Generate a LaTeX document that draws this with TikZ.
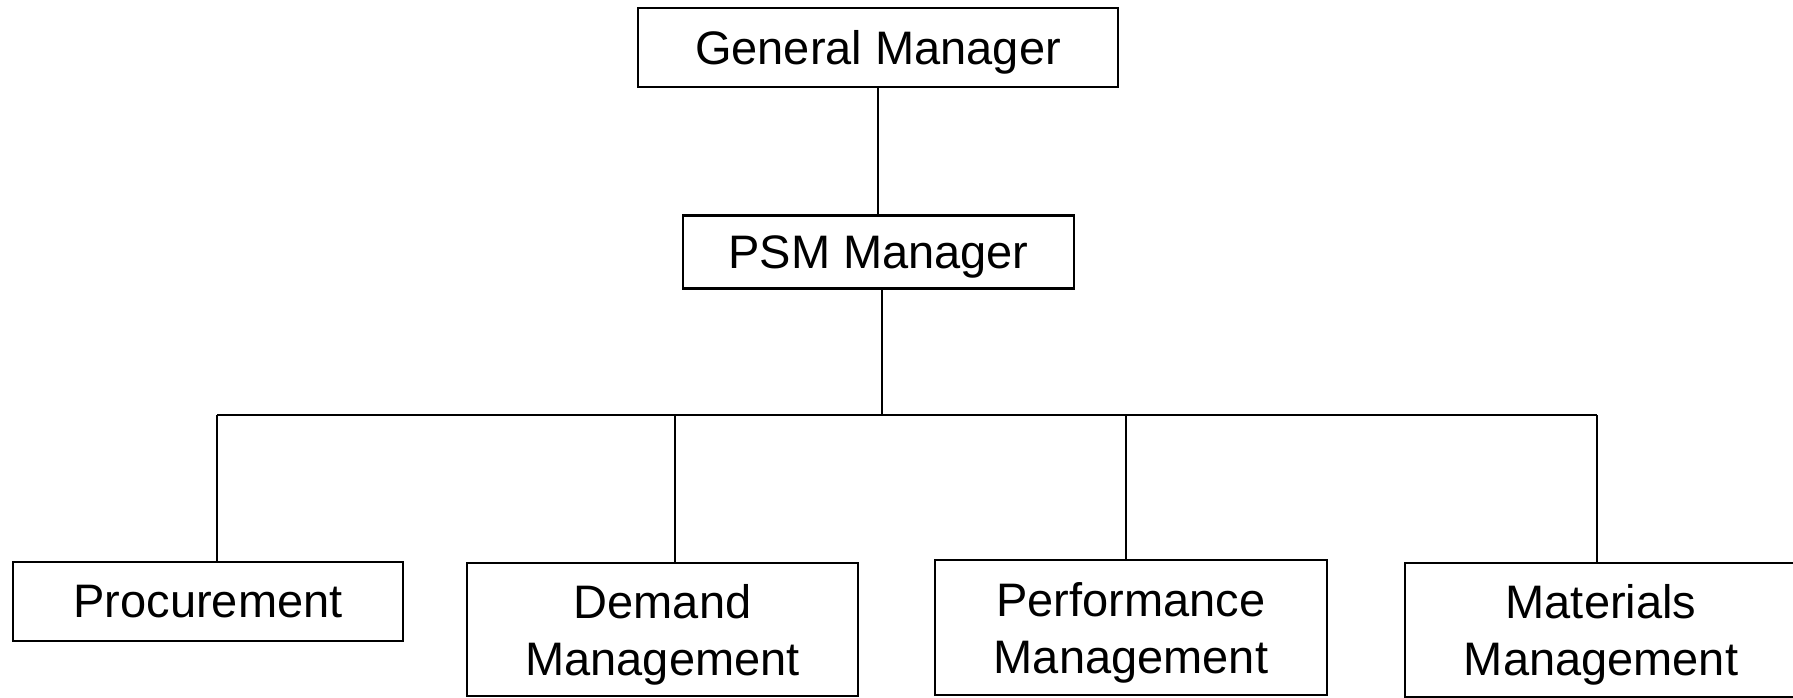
\documentclass[tikz,border=0pt]{standalone}
\usepackage{fontspec}
\setmainfont{Liberation Sans}
\begin{document}
\begin{tikzpicture}[x=1bp,y=-1bp,
  orgbox/.style={draw=black, line width=2.2bp, inner sep=0pt, align=center,
    text depth=0pt, font=\fontsize{47bp}{57bp}\selectfont},
  link/.style={draw=black, line width=2.2bp}]
  \useasboundingbox (0,0) rectangle (1793,698);

  % top of the chart
  \node[orgbox, minimum width=480bp, minimum height=79bp] (gm)  at (878,47.5) {General Manager};
  \node[orgbox, minimum width=391bp, minimum height=73bp] (psm) at (878.5,252) {PSM Manager};

  % departments
  \node[orgbox, minimum width=390bp, minimum height=79bp]  (proc) at (208,601.5) {Procurement};
  \node[orgbox, minimum width=391bp, minimum height=133bp] (dem)  at (662.5,629.5) {Demand\\Management};
  \node[orgbox, minimum width=392bp, minimum height=135bp] (perf) at (1131,627.5) {Performance\\Management};
  \node[orgbox, minimum width=392bp, minimum height=134bp] (mat)  at (1601,630) {Materials\\Management};

  % branch points on the horizontal bus
  \coordinate (bus) at (882,415);
  \coordinate (t1) at (217,415);
  \coordinate (t2) at (675,415);
  \coordinate (t3) at (1126,415);
  \coordinate (t4) at (1597,415);

  % connectors
  \draw[link] (gm.south) -- (gm.south |- psm.north);
  \draw[link] (bus |- psm.south) -- (bus);
  \draw[link] (t1) -- (t4);
  \draw[link] (t1) -- (t1 |- proc.north);
  \draw[link] (t2) -- (t2 |- dem.north);
  \draw[link] (t3) -- (t3 |- perf.north);
  \draw[link] (t4) -- (t4 |- mat.north);
\end{tikzpicture}
\end{document}
